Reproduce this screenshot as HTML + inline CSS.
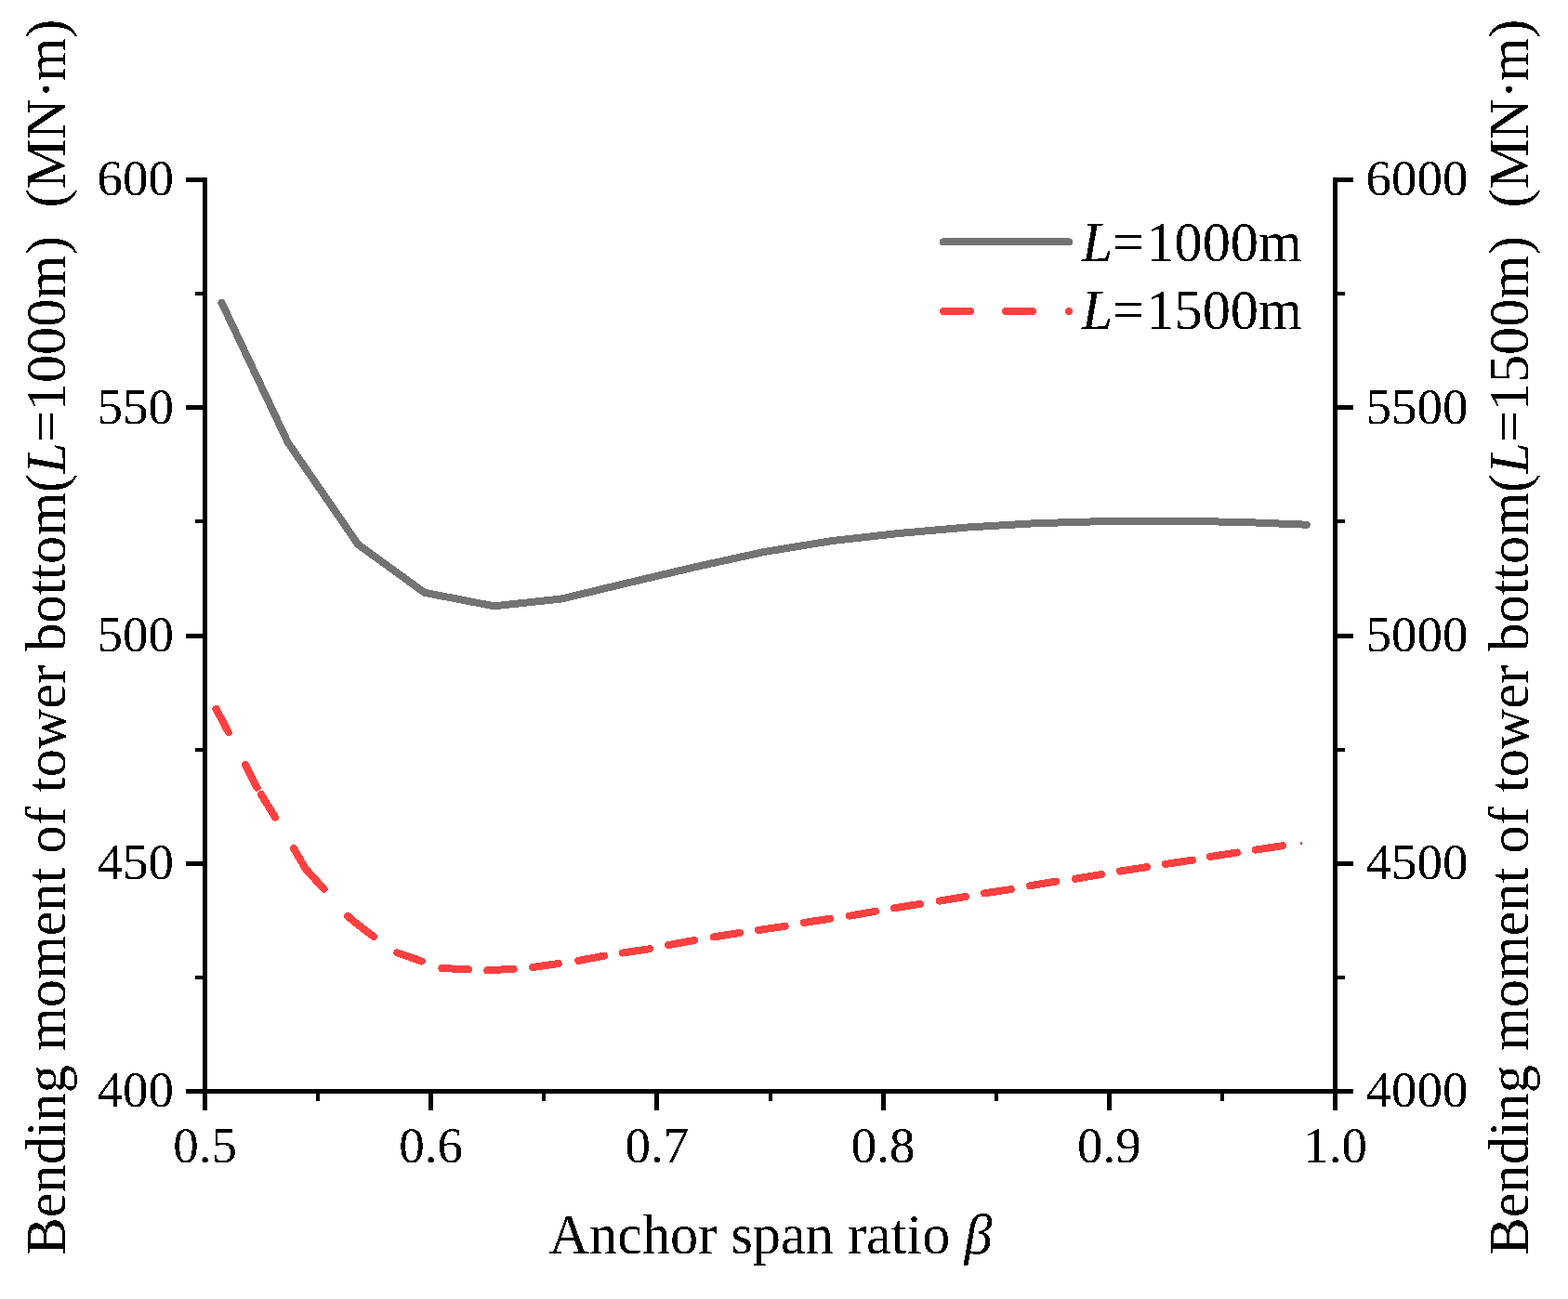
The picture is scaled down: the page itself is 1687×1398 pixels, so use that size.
<!DOCTYPE html><html><head><meta charset="utf-8"><title>Bending moment vs anchor span ratio</title><style>html,body{margin:0;padding:0;background:#fff;}svg{display:block;}text{font-family:"Liberation Serif","Noto Serif CJK SC",serif;fill:#000;}</style></head><body>
<svg width="1687" height="1398" viewBox="0 0 1687 1398">
<defs><filter id="bin" x="0" y="0" width="1687" height="1398" filterUnits="userSpaceOnUse"><feComponentTransfer><feFuncA type="discrete" tableValues="0 1"/></feComponentTransfer></filter></defs>
<rect width="1687" height="1398" fill="#fff"/>
<g filter="url(#bin)">
<g fill="#000" shape-rendering="crispEdges">
<rect x="218" y="191" width="5" height="1004"/>
<rect x="1434" y="191" width="5" height="1004"/>
<rect x="200" y="1172" width="1256" height="5"/>
<rect x="200" y="191" width="20" height="5"/>
<rect x="1437" y="191" width="19" height="5"/>
<rect x="200" y="436.25" width="20" height="5"/>
<rect x="1437" y="436.25" width="19" height="5"/>
<rect x="200" y="681.5" width="20" height="5"/>
<rect x="1437" y="681.5" width="19" height="5"/>
<rect x="200" y="926.75" width="20" height="5"/>
<rect x="1437" y="926.75" width="19" height="5"/>
<rect x="200" y="1172" width="20" height="5"/>
<rect x="1437" y="1172" width="19" height="5"/>
<rect x="210" y="314.125" width="10" height="4"/>
<rect x="1437" y="314.125" width="10" height="4"/>
<rect x="210" y="559.375" width="10" height="4"/>
<rect x="1437" y="559.375" width="10" height="4"/>
<rect x="210" y="804.625" width="10" height="4"/>
<rect x="1437" y="804.625" width="10" height="4"/>
<rect x="210" y="1049.88" width="10" height="4"/>
<rect x="1437" y="1049.88" width="10" height="4"/>
<rect x="218" y="1175" width="5" height="20"/>
<rect x="461.2" y="1175" width="5" height="20"/>
<rect x="704.4" y="1175" width="5" height="20"/>
<rect x="947.6" y="1175" width="5" height="20"/>
<rect x="1190.8" y="1175" width="5" height="20"/>
<rect x="1434" y="1175" width="5" height="20"/>
<rect x="340.1" y="1175" width="4" height="10"/>
<rect x="583.3" y="1175" width="4" height="10"/>
<rect x="826.5" y="1175" width="4" height="10"/>
<rect x="1069.7" y="1175" width="4" height="10"/>
<rect x="1312.9" y="1175" width="4" height="10"/>
</g>
<text x="187" y="210.3" font-size="55" text-anchor="end">600</text>
<text x="187" y="455.55" font-size="55" text-anchor="end">550</text>
<text x="187" y="700.8" font-size="55" text-anchor="end">500</text>
<text x="187" y="946.05" font-size="55" text-anchor="end">450</text>
<text x="187" y="1191.3" font-size="55" text-anchor="end">400</text>
<text x="1469.5" y="210.4" font-size="55">6000</text>
<text x="1469.5" y="455.65" font-size="55">5500</text>
<text x="1469.5" y="700.9" font-size="55">5000</text>
<text x="1469.5" y="946.15" font-size="55">4500</text>
<text x="1469.5" y="1191.4" font-size="55">4000</text>
<text x="220.5" y="1250.6" font-size="55" text-anchor="middle">0.5</text>
<text x="463.7" y="1250.6" font-size="55" text-anchor="middle">0.6</text>
<text x="706.9" y="1250.6" font-size="55" text-anchor="middle">0.7</text>
<text x="950.1" y="1250.6" font-size="55" text-anchor="middle">0.8</text>
<text x="1193.3" y="1250.6" font-size="55" text-anchor="middle">0.9</text>
<text x="1436.5" y="1250.6" font-size="55" text-anchor="middle">1.0</text>
<text x="590.5" y="1349" font-size="60.3">Anchor span ratio <tspan font-style="italic">β</tspan></text>
<g transform="translate(70,0) rotate(-90)" font-size="60.3">
<text x="-1350.5" y="0">Bending moment of tower bottom(<tspan font-style="italic">L</tspan>=1000m</text>
<text x="-273.9" y="0">)</text>
<text x="-223.45" y="0">(MN·<tspan dx="-1.5">m</tspan>)</text>
</g>
<g transform="translate(1644,0) rotate(-90)" font-size="60.3">
<text x="-1350.5" y="0">Bending moment of tower bottom(<tspan font-style="italic">L</tspan>=1500m</text>
<text x="-273.9" y="0">)</text>
<text x="-223.45" y="0">(MN·<tspan dx="-1.5">m</tspan>)</text>
</g>
</g>
<polyline points="238.5,325.8 309.8,476.3 385.3,586 456.7,637.8 531.5,652.3 603.5,644.6 676.1,627.2 749,610 822,594 894.9,582.1 967.9,573.9 1040.9,567.5 1113.8,563.2 1186.8,561.1 1259.7,560.8 1332.7,561.8 1405.7,564.7" fill="none" stroke="#737373" stroke-width="8" stroke-linejoin="round" stroke-linecap="round" shape-rendering="crispEdges"/>
<g fill="none" stroke="#FF4040" stroke-width="8" stroke-linejoin="round" stroke-linecap="round" shape-rendering="crispEdges">
<polyline points="232.5,763 245.8,788"/>
<polyline points="264,823 276.5,847.6"/>
<polyline points="281,855 296,879.6"/>
<polyline points="315.9,912.9 329.2,935.6 348.5,956.7"/>
<polyline points="374.2,985.8 379.8,991 402.1,1008.2"/>
<polyline points="427.1,1025.3 453.7,1034.5"/>
<polyline points="475.4,1042 503.9,1043.4"/>
<polyline points="524.2,1044.4 552.7,1042.7"/>
<polyline points="573.2,1041 600.8,1037"/>
<polyline points="622.2,1033.9 649.8,1028.7"/>
<polyline points="669.9,1025.5 699,1021.2"/>
<polyline points="719,1017.1 747,1012"/>
<polyline points="768,1008.4 796,1003.9"/>
<polyline points="815.9,1001 844.7,996.8"/>
<polyline points="864.8,993 893,988.8"/>
<polyline points="913.9,985.7 941.9,980.8"/>
<polyline points="962,977.3 990,972.9"/>
<polyline points="1010.9,969.6 1038.9,965"/>
<polyline points="1059.1,961.3 1087.8,957.1"/>
<polyline points="1108,953.2 1136,948.6"/>
<polyline points="1157.1,945.7 1184.9,941"/>
<polyline points="1205.1,937.6 1234,933.1"/>
<polyline points="1253.9,930 1282.9,925.6"/>
<polyline points="1301.9,922 1330.9,917.5"/>
<polyline points="1351,914.6 1379.9,910.2"/>
<circle cx="1400" cy="907.5" r="1.2" fill="#FF4040" stroke="none"/>
</g>
<line x1="1014.9" y1="260.4" x2="1150" y2="260.4" stroke="#737373" stroke-width="8" stroke-linecap="round" shape-rendering="crispEdges"/>
<g stroke="#FF4040" stroke-width="8" stroke-linecap="round" shape-rendering="crispEdges">
<line x1="1014.9" y1="335" x2="1044.1" y2="335"/><line x1="1082.1" y1="335" x2="1110.9" y2="335"/><line x1="1150" y1="335" x2="1150.01" y2="335"/>
</g>
<g filter="url(#bin)">
<text x="1163.8" y="280.8" font-size="60.3"><tspan font-style="italic">L</tspan>=<tspan dx="2">1000m</tspan></text>
<text x="1163.8" y="354.4" font-size="60.3"><tspan font-style="italic">L</tspan>=<tspan dx="2">1500m</tspan></text>
</g>
</svg></body></html>
